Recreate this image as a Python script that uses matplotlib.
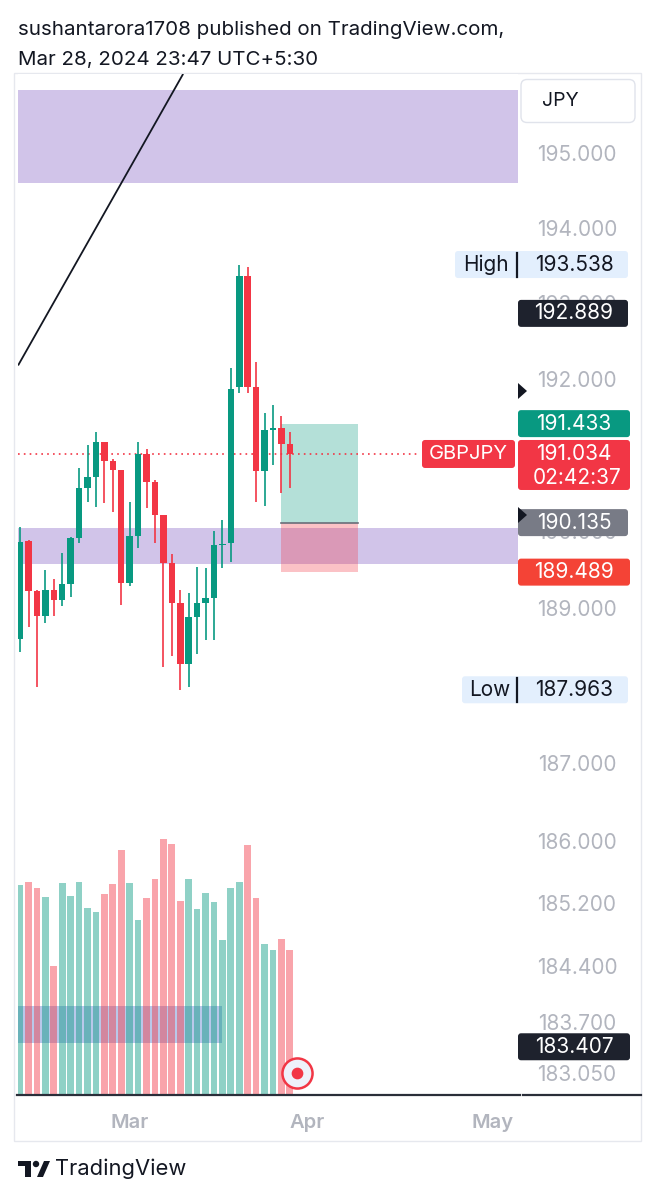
import matplotlib
matplotlib.use("Agg")
import matplotlib.pyplot as plt
from matplotlib.patches import Rectangle, FancyBboxPatch, Polygon, Circle
from matplotlib.transforms import IdentityTransform
from matplotlib.ticker import NullLocator

plt.rcParams['font.family'] = ['Inter', 'DejaVu Sans']

# GBPJPY daily candles, Feb 13 -> Mar 28 2024 (weekdays only)
opens = [188.62, 189.90, 189.24, 188.92, 189.26, 189.13, 189.33, 189.93, 190.59, 190.73,
         191.19, 190.94, 190.82, 189.35, 189.96, 191.04, 190.67, 190.24, 189.61, 189.09,
         188.30, 188.90, 189.09, 189.15, 189.84, 189.87, 191.91, 193.38, 191.92, 190.81,
         191.35, 191.38, 191.16]
highs = [190.08, 189.91, 189.26, 189.52, 189.40, 189.74, 189.95, 190.85, 191.15, 191.32,
         191.19, 190.97, 190.82, 190.40, 191.19, 191.10, 190.69, 190.24, 189.73, 189.26,
         189.22, 189.56, 189.54, 190.03, 190.17, 192.16, 193.538, 193.51, 192.24, 191.57,
         191.68, 191.53, 191.32]
lows = [188.45, 188.78, 188.00, 188.83, 188.92, 189.05, 189.17, 189.87, 190.40, 190.34,
        190.39, 190.27, 189.06, 189.31, 189.80, 190.33, 189.87, 188.26, 188.40, 187.963,
        188.00, 188.43, 188.61, 188.61, 189.54, 189.62, 191.83, 191.84, 190.40, 190.35,
        190.89, 190.52, 190.59]
closes = [189.88, 189.24, 188.92, 189.26, 189.13, 189.33, 189.93, 190.59, 190.73, 191.19,
          190.94, 190.82, 189.35, 189.96, 191.04, 190.67, 190.24, 189.61, 189.09, 188.30,
          188.90, 189.09, 189.15, 189.84, 189.86, 191.89, 193.38, 191.92, 190.81, 191.35,
          191.37, 191.16, 191.034]
volumes = [210, 213, 207, 198, 129, 212, 199, 213, 187, 183, 201, 211, 245, 212, 175, 197,
           216, 256, 251, 194, 216, 186, 202, 193, 155, 207, 213, 250, 197, 151, 145, 156, 145]

month_labels = ["Mar", "Apr", "May"]
month_idx = [13, 34, 56]   # bar index of Mar 1, Apr 1, May 1

price_ticks = [195.0, 194.0, 193.0, 192.0, 190.0, 189.0, 187.0, 186.0,
               185.2, 184.4, 183.7, 183.05]

# drawings
supply_zone = (194.625, 195.873)
demand_zone = (189.596, 190.065)
trend_x = [-0.24, 19.34]
trend_y = [192.20, 196.09]
pos_x = (30.96, 40.1)
pos_entry, pos_target, pos_stop = 190.135, 191.433, 189.489
last_price = 191.034
vp_box = (-0.25, 24.0, 52, 89)   # x0, x1, vol-y0, vol-y1

UP = '#089981'
DN = '#f23645'
TXT = '#131722'
GRAY = '#b2b5be'

fig = plt.figure(figsize=(6.59, 12), dpi=100)
ax = fig.add_axes([18/659, 105/1200, 500/659, 1021/1200])
ax.set_yscale('log')
ax.set_ylim(182.80, 196.089)
ax.set_xlim(-0.25, 59.07)
for s in ax.spines.values():
    s.set_visible(False)
ax.yaxis.set_major_locator(NullLocator())
ax.yaxis.set_minor_locator(NullLocator())
ax.set_xticks(month_idx, month_labels)
ax.tick_params(axis='x', length=0, pad=14, labelcolor=GRAY, labelsize=14.5)
for t in ax.get_xticklabels():
    t.set_fontweight('semibold')

# zones
ax.axhspan(*supply_zone, color='#d1c4e9', zorder=1, lw=0)
ax.axhspan(*demand_zone, color='#d1c4e9', zorder=1, lw=0)

# long position tool
ax.add_patch(Rectangle((pos_x[0], pos_entry), pos_x[1]-pos_x[0], pos_target-pos_entry,
                       fc=UP, alpha=0.3, lw=0, zorder=2))
ax.add_patch(Rectangle((pos_x[0], pos_stop), pos_x[1]-pos_x[0], pos_entry-pos_stop,
                       fc=DN, alpha=0.3, lw=0, zorder=2))
ax.plot(pos_x, [pos_entry, pos_entry], color='#6a6d78', lw=1.2, zorder=3)

# trend line
ax.plot(trend_x, trend_y, color=TXT, lw=1.3, zorder=3, solid_capstyle='butt')

# last price line
ax.plot([-0.25, 47.45], [last_price, last_price], color=DN, lw=1.2, ls=(0, (1, 2.5)), zorder=3)

# candles
idx = list(range(len(opens)))
cols = [UP if c >= o else DN for o, c in zip(opens, closes)]
ax.vlines(idx, lows, highs, colors=cols, lw=1.2, zorder=4)
ax.bar(idx, [abs(c-o) for o, c in zip(opens, closes)], bottom=[min(o, c) for o, c in zip(opens, closes)],
       width=0.77, color=cols, zorder=5)

# volume overlay
axv = ax.twinx()
axv.set_ylim(0, 1021)
axv.axis('off')
axv.add_patch(Rectangle((vp_box[0], vp_box[2]), vp_box[1]-vp_box[0], vp_box[3]-vp_box[2],
                        fc='#b9c8ea', lw=0, zorder=1))
axv.bar(idx, volumes, width=0.8, color=cols, alpha=0.45, zorder=2)
axv.scatter([32.9], [22], s=470, facecolor='#eef1fa', edgecolor=DN, linewidth=1.8, zorder=5)
axv.scatter([32.9], [22], s=55, color=DN, zorder=6)

ID = IdentityTransform()

def ypx(price):
    return 1200 - ax.transData.transform((0, price))[1]

def box(x0, x1, yc, h, fc, ec='none', r=3, z=5, lw=1):
    fig.add_artist(FancyBboxPatch((x0, 1200 - yc - h/2), x1-x0, h,
                                  boxstyle=f'round,pad=0,rounding_size={r}',
                                  fc=fc, ec=ec, lw=lw, transform=ID, zorder=z))

def label(x, yc, s, color, size=15, weight='normal', ha='center', z=6):
    fig.text(x, 1200 - yc, s, color=color, fontsize=size, ha=ha, va='center',
             fontweight=weight, transform=ID, zorder=z)

# frame
fig.add_artist(Rectangle((14, 1200-1141), 627, 1068, fc='none', ec='#e6e8ee', lw=1,
                         transform=ID, zorder=0))
fig.add_artist(plt.Line2D([17, 520], [1200-1095]*2, color='#2a2e39', lw=1.6, transform=ID, zorder=4))
fig.add_artist(plt.Line2D([523, 641], [1200-1095]*2, color='#2a2e39', lw=1.6, transform=ID, zorder=4))

# price scale labels (193 and 190 sit mostly under the tags, as in the source)
for p in price_ticks:
    label(577, ypx(p), f'{p:.3f}', GRAY, z=2)

box(521, 635, 101, 43, 'white', ec='#e0e3eb', r=6, z=4)
label(542, 101, 'JPY', TXT, size=14, ha='left')

box(455, 628, ypx(193.538), 27, '#e3effd', r=3)
fig.add_artist(plt.Line2D([517, 517], [1200-ypx(193.538)-12, 1200-ypx(193.538)+12],
                          color=TXT, lw=1.6, transform=ID, zorder=6))
label(486, ypx(193.538), 'High', TXT)
label(574, ypx(193.538), '193.538', TXT)

box(518, 628, ypx(192.889), 27, '#1e222d')
label(574, ypx(192.889), '192.889', 'white')

box(518, 630, ypx(191.433), 27, UP)
label(574, ypx(191.433), '191.433', 'white')

box(422, 515, ypx(last_price), 28, DN)
label(468, ypx(last_price), 'GBPJPY', 'white', size=14.5)
yl = ypx(last_price)
box(518, 630, yl + 11, 50, DN)
label(574, yl, '191.034', 'white')
label(577, yl + 24, '02:42:37', 'white')

box(518, 628, ypx(pos_entry), 27, '#787b86')
label(574, ypx(pos_entry), '190.135', 'white')

box(518, 630, ypx(pos_stop), 27, '#f44336')
label(574, ypx(pos_stop), '189.489', 'white')

box(462, 628, ypx(187.963), 27, '#e3effd', r=3)
fig.add_artist(plt.Line2D([517, 517], [1200-ypx(187.963)-12, 1200-ypx(187.963)+12],
                          color=TXT, lw=1.6, transform=ID, zorder=6))
label(490, ypx(187.963), 'Low', TXT)
label(574, ypx(187.963), '187.963', TXT)

box(518, 630, ypx(183.407), 27, '#1e222d')
label(574, ypx(183.407), '183.407', 'white')

# small arrow markers on the scale
for yc in (391, 515):
    fig.add_artist(Polygon([(518, 1200-yc+8), (518, 1200-yc-8), (527, 1200-yc)], closed=True,
                           fc=TXT, ec='none', transform=ID, zorder=7))

# header
fig.text(18, 1200-30, 'sushantarora1708 published on TradingView.com,', color=TXT,
         fontsize=14.8, va='center', ha='left', transform=ID)
fig.text(18, 1200-60, 'Mar 28, 2024 23:47 UTC+5:30', color=TXT,
         fontsize=14.8, va='center', ha='left', transform=ID)

# TradingView logo
fig.add_artist(Polygon([(18, 1200-1161), (31, 1200-1161), (31, 1200-1177), (25, 1200-1177),
                        (25, 1200-1166), (18, 1200-1166)], closed=True, fc=TXT, ec='none', transform=ID))
fig.add_artist(Circle((36, 1200-1164), 3.2, fc=TXT, ec='none', transform=ID))
fig.add_artist(Polygon([(37, 1200-1177), (43, 1200-1177), (50, 1200-1161), (44, 1200-1161)],
                       closed=True, fc=TXT, ec='none', transform=ID))
fig.text(55, 1200-1169, 'TradingView', color=TXT, fontsize=15.8, va='center', ha='left',
         transform=ID)

fig.savefig('out.png', dpi=100, facecolor='white')
